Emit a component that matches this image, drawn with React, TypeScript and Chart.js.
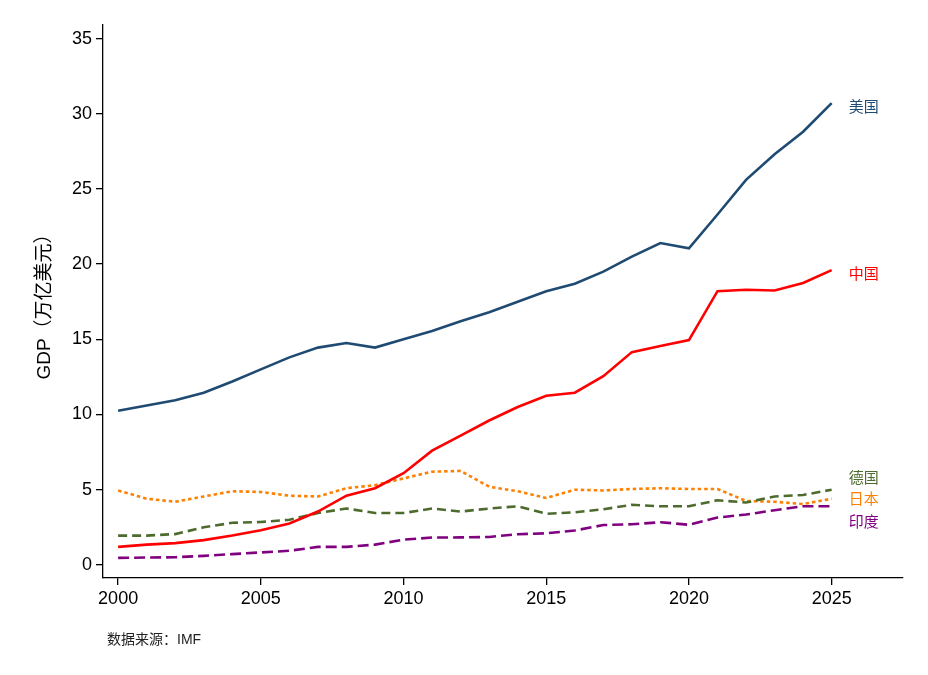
import React, { useEffect, useRef } from "react";
import { Chart, registerables } from "chart.js";
Chart.register(...registerables);

const years = [2000,2001,2002,2003,2004,2005,2006,2007,2008,2009,2010,2011,2012,2013,2014,2015,2016,2017,2018,2019,2020,2021,2022,2023,2024,2025];
const us = [10.25,10.6,10.95,11.45,12.2,13.0,13.8,14.45,14.75,14.45,15.0,15.55,16.2,16.8,17.5,18.2,18.7,19.5,20.5,21.4,21.05,23.3,25.6,27.3,28.8,30.7];
const china = [1.2,1.35,1.45,1.65,1.95,2.3,2.75,3.55,4.6,5.1,6.1,7.6,8.6,9.6,10.5,11.25,11.45,12.55,14.15,14.55,14.95,18.2,18.3,18.25,18.75,19.6];
const japan = [4.95,4.4,4.2,4.55,4.9,4.85,4.6,4.55,5.1,5.3,5.75,6.2,6.25,5.2,4.9,4.45,5.0,4.95,5.05,5.1,5.05,5.05,4.25,4.2,4.05,4.4];
const germany = [1.95,1.95,2.05,2.5,2.8,2.85,3.0,3.45,3.75,3.45,3.45,3.75,3.55,3.75,3.9,3.4,3.5,3.7,4.0,3.9,3.9,4.3,4.15,4.55,4.65,5.0];
const india = [0.47,0.49,0.51,0.6,0.72,0.83,0.94,1.2,1.2,1.35,1.68,1.82,1.83,1.86,2.04,2.1,2.29,2.65,2.7,2.84,2.67,3.15,3.35,3.64,3.9,3.9];
const xTicks = [2000,2005,2010,2015,2020,2025];
const yTicks = [0,5,10,15,20,25,30,35];
const labelNames = ["美国","中国","德国","日本","印度"];
const labelY = [30.5,19.4,5.8,4.4,2.9];

export default function App() {
  const ref = useRef<HTMLCanvasElement>(null);
  useEffect(() => {
    document.body.style.margin = "0";
    const font = "'Liberation Sans', Arial, sans-serif";
    const mk = (label: string, data: number[], color: string, dash: number[]) => ({
      label, data: years.map((y, i) => ({ x: y, y: data[i] })), borderColor: color,
      borderWidth: 2.6, borderDash: dash, pointRadius: 0, tension: 0, fill: false,
    });
    const sets = [
      mk("美国", us, "#1f4a72", []),
      mk("中国", china, "#ff0000", []),
      mk("德国", germany, "#4e6b2e", [9, 5]),
      mk("日本", japan, "#ff8000", [3.5, 3]),
      mk("印度", india, "#800080", [11, 5]),
    ];
    const labelsPlugin = {
      id: "lbl",
      afterDraw(c: any) {
        const ctx = c.ctx, xs = c.scales.x, ys = c.scales.y;
        ctx.save();
        ctx.font = "15px 'Noto Sans CJK SC'";
        ctx.textBaseline = "middle";
        labelNames.forEach((n, i) => {
          ctx.fillStyle = sets[i].borderColor;
          ctx.fillText(n, xs.getPixelForValue(2025.6), ys.getPixelForValue(labelY[i]));
        });
        ctx.fillStyle = "#222";
        ctx.font = "14px 'Liberation Sans','Noto Sans CJK SC'";
        ctx.fillText("数据来源：IMF", 107, 640);
        ctx.translate(45, 302);
        ctx.rotate(-Math.PI / 2);
        ctx.textAlign = "center";
        ctx.fillStyle = "#000";
        ctx.font = "19px 'Liberation Sans','Noto Sans CJK SC'";
        ctx.fillText("GDP（万亿美元）", 0, 0);
        ctx.restore();
      },
    };
    const grid = { display: true, drawOnChartArea: false, drawTicks: true, tickLength: 7, color: "#000", lineWidth: 1.3 } as any;
    const chart = new Chart(ref.current!, {
      type: "line",
      data: { datasets: sets as any },
      plugins: [labelsPlugin],
      options: {
        animation: false, responsive: false,
        layout: { padding: { top: 25, right: 25, left: 0, bottom: 0 } },
        plugins: { legend: { display: false }, tooltip: { enabled: false } },
        scales: {
          x: {
            type: "linear", min: 1999.47, max: 2027.5,
            afterBuildTicks: (s: any) => { s.ticks = xTicks.map(v => ({ value: v })); },
            afterFit: (s: any) => { s.height = 97; },
            grid,
            border: { color: "#000", width: 1.3 },
            ticks: { color: "#000", font: { family: font, size: 18 }, maxRotation: 0, padding: 3, callback: (v: any) => String(v) },
          },
          y: {
            type: "linear", min: -0.87, max: 35.9,
            afterBuildTicks: (s: any) => { s.ticks = yTicks.map(v => ({ value: v })); },
            afterFit: (s: any) => { s.width = 103; },
            grid,
            border: { color: "#000", width: 1.3 },
            ticks: { color: "#000", font: { family: font, size: 18 }, padding: 4 },
          },
        },
      },
    });
    return () => chart.destroy();
  }, []);
  return <canvas ref={ref} width={928} height={675} style={{ display: "block", width: 928, height: 675 }} />;
}
